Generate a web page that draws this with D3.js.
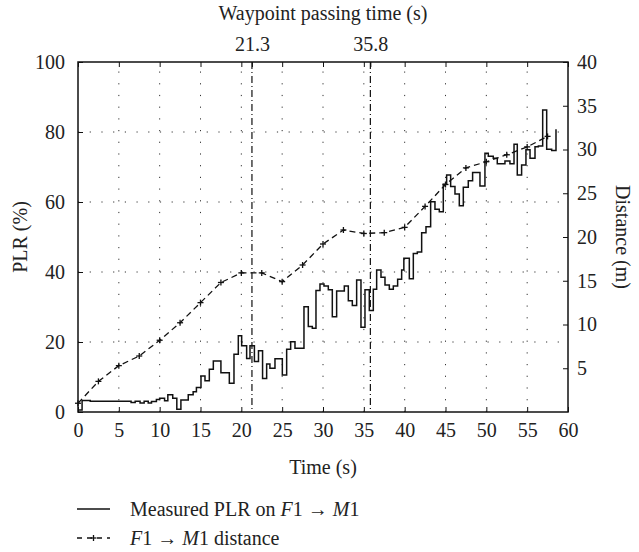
<!DOCTYPE html>
<html>
<head>
<meta charset="utf-8">
<script src="https://cdn.jsdelivr.net/npm/d3@7/dist/d3.min.js"></script>
<style>
  body { margin: 0; background: #fff; }
</style>
</head>
<body>
<div id="chart"></div>
<script>
// PLR step series (time of step start in s, PLR in %)
const plrTime = [0, 0.5, 1.5, 6.5, 7, 7.6, 8.1, 8.6, 9, 9.6, 10, 10.6, 11, 11.6, 12.1, 12.6, 13.5, 14.1, 14.5,
  15.06, 15.55, 16.08, 16.57, 17.5, 18.53, 19.1, 19.63, 20.04, 20.65, 21.06, 21.6, 22.1, 22.6, 23.1, 23.5,
  24.12, 25.02, 25.55, 26.04, 26.57, 27.67, 28.2, 28.69, 29.14, 29.63, 30.12, 30.65, 31.14, 31.67, 32.61,
  33.1, 33.59, 34.12, 34.65, 35.14, 35.67, 36.16, 36.57, 37.1, 37.59, 38.12, 38.61, 39.14, 39.63, 39.9,
  40.57, 41.06, 41.55, 42.08, 42.61, 43.18, 43.71, 44.24, 44.73, 45.14, 45.63, 46.16, 46.69, 47.18, 47.79,
  48.32, 49.22, 49.83, 50.24, 50.85, 51.34, 52.28, 52.89, 53.39, 53.79, 54.32, 54.85, 55.35, 55.96, 56.37,
  56.9, 57.39, 58.0, 58.53];
const plrValue = [0.6, 3.3, 3.1, 2.7, 3.1, 2.6, 3.1, 2.6, 3.0, 3.6, 3.9, 3.2, 4.9, 3.9, 0.8, 3.4, 4.9, 5.8, 7.0,
  10.3, 8.9, 12.2, 14.6, 11.2, 8.2, 16.5, 21.8, 18.9, 15.3, 18.9, 14.4, 17.5, 9.6, 13.7, 12.5,
  15.2, 10.6, 17.9, 20.1, 18.2, 30.1, 24.4, 23.9, 34.7, 36.6, 36.0, 34.9, 27.2, 34.6, 36.0,
  31.8, 30.4, 37.7, 24.2, 34.9, 29.0, 35.1, 40.6, 38.5, 36.3, 35.1, 36.0, 37.9, 40.6, 43.9,
  38.1, 45.3, 45.7, 51.2, 52.9, 60.1, 57.9, 57.2, 65.1, 67.7, 64.4, 62.3, 58.9, 64.2, 66.1,
  68.4, 64.6, 73.9, 73.1, 72.5, 70.9, 71.7, 70.9, 76.5, 67.7, 70.6, 74.9, 72.5, 75.8, 76.0,
  86.3, 75.1, 74.7, 80.8];

// F1 -> M1 distance (m), sampled every 2.5 s
const distTime = [0, 2.5, 5, 7.5, 10, 12.5, 15, 17.5, 20, 22.5, 25, 27.5, 30, 32.5, 35, 37.5, 40, 42.5,
  45, 47.5, 50, 52.5, 55, 57.5];
const distValue = [1.0, 3.5, 5.3, 6.4, 8.2, 10.2, 12.5, 14.8, 15.9, 15.9, 14.9, 16.8, 19.2, 20.8, 20.4,
  20.5, 21.1, 23.5, 26.0, 27.9, 28.6, 29.4, 30.3, 31.5];

const waypointTimes = [21.3, 35.8];
const xTicks = [0, 5, 10, 15, 20, 25, 30, 35, 40, 45, 50, 55, 60];
const plrTicks = [0, 20, 40, 60, 80, 100];
const distTicks = [5, 10, 15, 20, 25, 30, 35, 40];

const width = 639, height = 552;
const margin = { top: 62, right: 71, bottom: 140, left: 78 };
const plotW = width - margin.left - margin.right;
const plotH = height - margin.top - margin.bottom;
const fontFamily = '"Liberation Serif", "DejaVu Serif", serif';

const svg = d3.select('#chart').append('svg')
  .attr('width', width)
  .attr('height', height)
  .attr('font-family', fontFamily);

const x = d3.scaleLinear().domain([0, 60]).range([margin.left, margin.left + plotW]);
const yL = d3.scaleLinear().domain([0, 100]).range([margin.top + plotH, margin.top]);
const yR = d3.scaleLinear().domain([0, 40]).range([margin.top + plotH, margin.top]);

const plotTop = margin.top, plotBottom = margin.top + plotH;
const plotLeft = margin.left, plotRight = margin.left + plotW;

// dotted grid
const grid = svg.append('g')
  .attr('stroke', '#333')
  .attr('stroke-width', 1)
  .attr('stroke-dasharray', '1.2,10.5');
grid.selectAll('line.gx')
  .data(xTicks.filter(d => d > 0 && d < 60))
  .enter().append('line')
  .attr('x1', d => x(d)).attr('x2', d => x(d))
  .attr('y1', plotBottom).attr('y2', plotTop);
grid.selectAll('line.gy')
  .data(plrTicks.filter(d => d > 0 && d < 100))
  .enter().append('line')
  .attr('x1', plotLeft).attr('x2', plotRight)
  .attr('y1', d => yL(d)).attr('y2', d => yL(d));

// waypoint dash-dot lines
svg.selectAll('line.wp')
  .data(waypointTimes)
  .enter().append('line')
  .attr('x1', d => x(d)).attr('x2', d => x(d))
  .attr('y1', plotTop).attr('y2', plotBottom)
  .attr('stroke', '#111')
  .attr('stroke-width', 1.2)
  .attr('stroke-dasharray', '7,3,1,3');

// distance curve
const distData = distTime.map((t, i) => [t, distValue[i]]);
svg.append('path')
  .datum(distData)
  .attr('fill', 'none')
  .attr('stroke', '#111')
  .attr('stroke-width', 1.3)
  .attr('stroke-dasharray', '6,4')
  .attr('d', d3.line().x(d => x(d[0])).y(d => yR(d[1])));

const plus = (g, cx, cy) => {
  g.append('line').attr('x1', cx - 3).attr('x2', cx + 3).attr('y1', cy).attr('y2', cy);
  g.append('line').attr('x1', cx).attr('x2', cx).attr('y1', cy - 3).attr('y2', cy + 3);
};
const marks = svg.append('g').attr('stroke', '#111').attr('stroke-width', 1.3);
distData.forEach(d => plus(marks, x(d[0]), yR(d[1])));

// PLR step line
const plrData = plrTime.map((t, i) => [t, plrValue[i]]);
svg.append('path')
  .datum(plrData)
  .attr('fill', 'none')
  .attr('stroke', '#111')
  .attr('stroke-width', 1.5)
  .attr('d', d3.line().curve(d3.curveStepAfter).x(d => x(d[0])).y(d => yL(d[1])));

// axes (inward ticks)
const tickLen = 5;
const fs = '20px';

const styleAxis = g => {
  g.select('.domain').remove();
  g.selectAll('text')
    .attr('font-family', fontFamily)
    .style('font-size', fs)
    .attr('fill', '#222');
  g.selectAll('.tick line').attr('stroke', '#111');
};

svg.append('g')
  .attr('transform', `translate(0,${plotBottom})`)
  .call(d3.axisBottom(x).tickValues(xTicks).tickSize(-tickLen).tickPadding(11).tickSizeOuter(0))
  .call(styleAxis);

svg.append('g')
  .attr('transform', `translate(0,${plotTop})`)
  .call(d3.axisTop(x).tickValues(xTicks.concat(waypointTimes)).tickSize(-tickLen).tickFormat('').tickSizeOuter(0))
  .call(styleAxis);

svg.append('g')
  .attr('transform', `translate(0,${plotTop})`)
  .call(d3.axisTop(x).tickValues(waypointTimes).tickSize(0).tickPadding(11).tickFormat(d3.format('.1f')))
  .call(styleAxis);

svg.append('g')
  .attr('transform', `translate(${plotLeft},0)`)
  .call(d3.axisLeft(yL).tickValues(plrTicks).tickSize(-tickLen).tickPadding(13).tickSizeOuter(0))
  .call(styleAxis);

svg.append('g')
  .attr('transform', `translate(${plotRight},0)`)
  .call(d3.axisRight(yR).tickValues(distTicks).tickSize(-tickLen).tickPadding(9).tickSizeOuter(0))
  .call(styleAxis);

// frame
svg.append('rect')
  .attr('x', plotLeft).attr('y', plotTop)
  .attr('width', plotW).attr('height', plotH)
  .attr('fill', 'none')
  .attr('stroke', '#111')
  .attr('stroke-width', 1.5);

// titles
const label = (txt) => svg.append('text')
  .attr('text-anchor', 'middle')
  .attr('fill', '#222')
  .style('font-size', fs)
  .text(txt);

label('Waypoint passing time (s)')
  .attr('x', (plotLeft + plotRight) / 2).attr('y', 20);

label('Time (s)')
  .attr('x', (plotLeft + plotRight) / 2).attr('y', 474);

label('PLR (%)')
  .attr('transform', `translate(27,${(plotTop + plotBottom) / 2}) rotate(-90)`);

label('Distance (m)')
  .attr('transform', `translate(616,${(plotTop + plotBottom) / 2}) rotate(90)`);

// legend
const lg = svg.append('g');
lg.append('line')
  .attr('x1', 77).attr('x2', 110).attr('y1', 509).attr('y2', 509)
  .attr('stroke', '#111').attr('stroke-width', 1.5);
lg.append('line')
  .attr('x1', 77).attr('x2', 110).attr('y1', 538).attr('y2', 538)
  .attr('stroke', '#111').attr('stroke-width', 1.3)
  .attr('stroke-dasharray', '5,5');
const lm = lg.append('g').attr('stroke', '#111').attr('stroke-width', 1.3);
plus(lm, 93.5, 538);

const t1 = lg.append('text').attr('x', 130).attr('y', 516).attr('fill', '#222').style('font-size', fs);
t1.append('tspan').text('Measured PLR on ');
t1.append('tspan').style('font-style', 'italic').text('F');
t1.append('tspan').text('1 \u2192 ');
t1.append('tspan').style('font-style', 'italic').text('M');
t1.append('tspan').text('1');

const t2 = lg.append('text').attr('x', 130).attr('y', 545).attr('fill', '#222').style('font-size', fs);
t2.append('tspan').style('font-style', 'italic').text('F');
t2.append('tspan').text('1 \u2192 ');
t2.append('tspan').style('font-style', 'italic').text('M');
t2.append('tspan').text('1 distance');
</script>
</body>
</html>
